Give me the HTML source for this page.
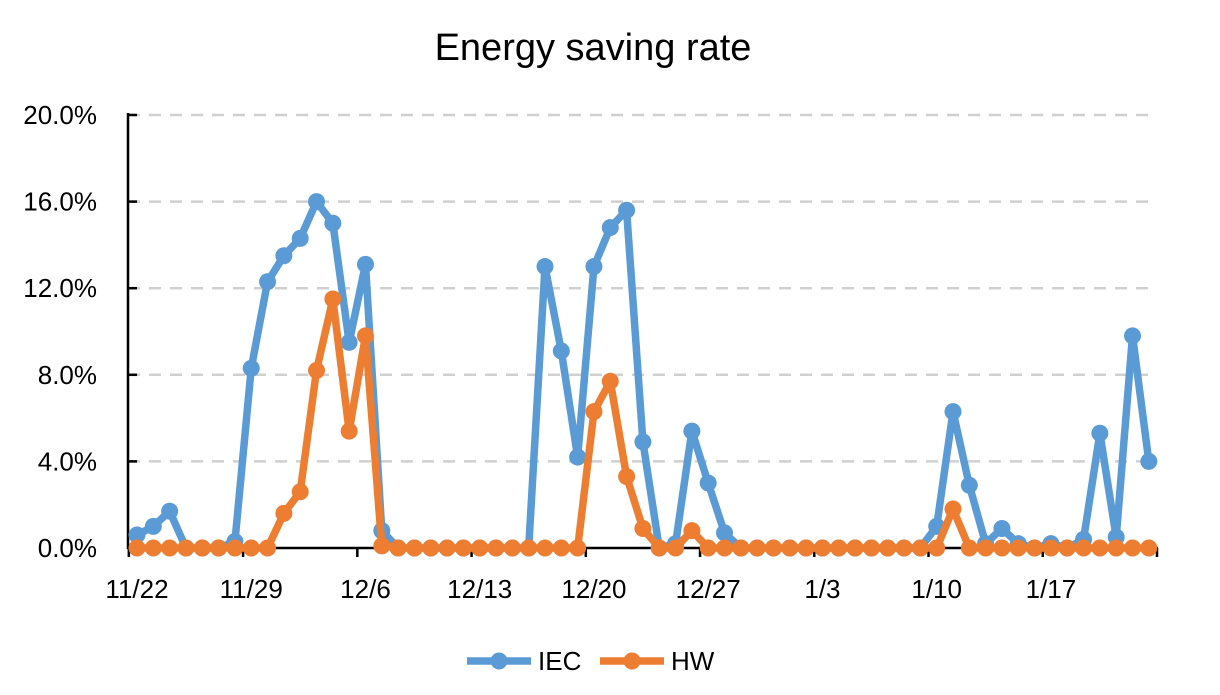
<!DOCTYPE html>
<html><head><meta charset="utf-8"><style>
body{margin:0;background:#fff;}
svg{display:block;font-family:"Liberation Sans",sans-serif;}
</style></head><body>
<svg id="s" width="1220" height="695" xmlns="http://www.w3.org/2000/svg">
<text x="593" y="60" font-size="38" text-anchor="middle" fill="#000">Energy saving rate</text>
<g id="g"></g>
</svg>
<script>
const g=document.getElementById('g');
const X=i=>137+i*16.32, Y=v=>548-v*21.65;
let h='';
for(let k=1;k<=5;k++){const y=Y(k*4);h+=`<line x1="128" x2="1150" y1="${y}" y2="${y}" stroke="#d0d0d0" stroke-width="2.5" stroke-dasharray="12,9"/>`;}
for(let k=0;k<=5;k++){const y=Y(k*4);h+=`<line x1="128" x2="137" y1="${y}" y2="${y}" stroke="#000" stroke-width="2.5"/><text x="97" y="${y+9}" font-size="26" text-anchor="end">${(k*4).toFixed(1)}%</text>`;}
h+=`<line x1="128" x2="128" y1="113" y2="549" stroke="#000" stroke-width="2.5"/><line x1="127" x2="1158" y1="548" y2="548" stroke="#000" stroke-width="2.5"/>`;
for(let t=-0.5;t<63;t+=7){const x=X(t);h+=`<line x1="${x}" x2="${x}" y1="548" y2="557" stroke="#000" stroke-width="2.5"/>`;}
const labs=['11/22','11/29','12/6','12/13','12/20','12/27','1/3','1/10','1/17'];
labs.forEach((l,i)=>{h+=`<text x="${X(i*7)}" y="598" font-size="26" text-anchor="middle">${l}</text>`;});
const b=[0.6,1.0,1.7,0,0,0,0.3,8.3,12.3,13.5,14.3,16.0,15.0,9.5,13.1,0.8,0,0,0,0,0,0,0,0,0,13.0,9.1,4.2,13.0,14.8,15.6,4.9,0,0.2,5.4,3.0,0.7,0,0,0,0,0,0,0,0,0,0,0,0,1.0,6.3,2.9,0.2,0.9,0.2,0,0.2,0,0.4,5.3,0.5,9.8,4.0];
const o=new Array(63).fill(0);
Object.assign(o,{9:1.6,10:2.6,11:8.2,12:11.5,13:5.4,14:9.8,15:0.1,28:6.3,29:7.7,30:3.3,31:0.9,34:0.8,50:1.8});
function ser(d,c){let p=d.map((v,i)=>X(i)+','+Y(v)).join(' ');let s=`<polyline points="${p}" fill="none" stroke="${c}" stroke-width="7.5" stroke-linejoin="round"/>`;d.forEach((v,i)=>{s+=`<circle cx="${X(i)}" cy="${Y(v)}" r="8.5" fill="${c}"/>`;});return s;}
h+=ser(b,'#5b9bd5')+ser(o,'#ed7d31');
h+=`<line x1="467" x2="531" y1="661" y2="661" stroke="#5b9bd5" stroke-width="7.5"/><circle cx="499" cy="661" r="8.5" fill="#5b9bd5"/><text x="538" y="670" font-size="26">IEC</text>`;
h+=`<line x1="600" x2="664" y1="661" y2="661" stroke="#ed7d31" stroke-width="7.5"/><circle cx="632" cy="661" r="8.5" fill="#ed7d31"/><text x="671" y="670" font-size="26">HW</text>`;
g.innerHTML=h;
</script>
</body></html>
